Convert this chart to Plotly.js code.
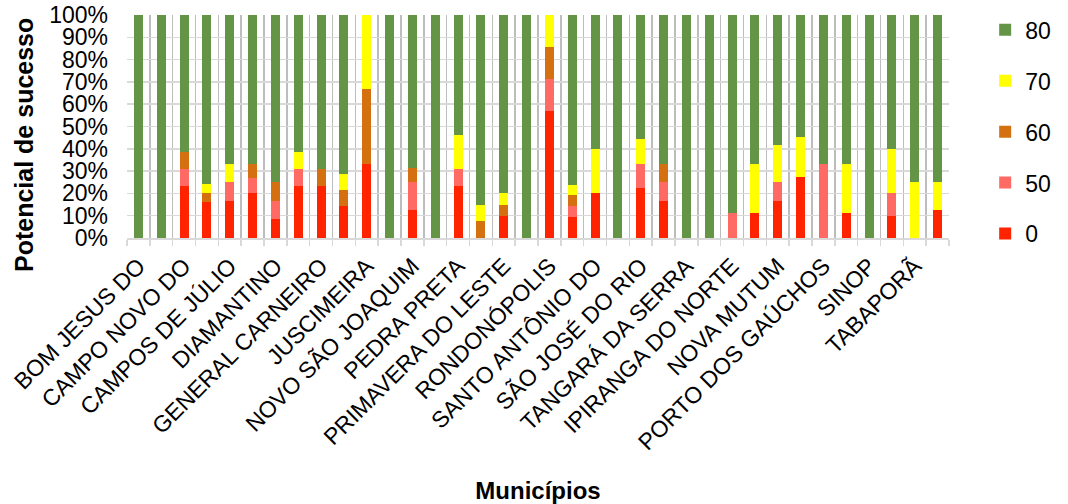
<!DOCTYPE html>
<html>
<head>
<meta charset="utf-8">
<script src="https://cdn.plot.ly/plotly-3.0.1.min.js"></script>
<style>html,body{margin:0;padding:0;background:#fff;}#chart{width:1068px;height:504px;}</style>
</head>
<body>
<div id="chart"></div>
<script>
// Labelled municipalities (every other bar is labelled in the reference)
const tickLabels = ["BOM JESUS DO","CAMPO NOVO DO","CAMPOS DE JÚLIO","DIAMANTINO","GENERAL CARNEIRO","JUSCIMEIRA","NOVO SÃO JOAQUIM","PEDRA PRETA","PRIMAVERA DO LESTE","RONDONÓPOLIS","SANTO ANTÔNIO DO","SÃO JOSÉ DO RIO","TANGARÁ DA SERRA","IPIRANGA DO NORTE","NOVA MUTUM","PORTO DOS GAÚCHOS","SINOP","TABAPORÃ"];
const seriesNames = ["0","50","60","70","80"];
const s0  = [0,0,23.1,16,16.7,20,8.3,23.1,23.1,14.3,33.3,0,12.5,0,23.1,0,10,0,57.1,9.5,20,0,22.2,16.7,0,0,0,11.1,16.7,27.3,0,11.1,0,10,0,12.5];
const s50 = [0,0,7.7,0,8.3,6.7,8.3,7.7,0,0,0,0,12.5,0,7.7,0,0,0,14.3,4.8,0,0,11.1,8.3,0,0,11.1,0,8.3,0,33.3,0,0,10,0,0];
const s60 = [0,0,7.7,4,0,6.7,8.3,0,7.7,7.1,33.3,0,6.25,0,0,7.5,5,0,14.3,4.8,0,0,0,8.3,0,0,0,0,0,0,0,0,0,0,0,0];
const s70 = [0,0,0,4,8.3,0,0,7.7,0,7.2,33.4,0,0,0,15.4,7.5,5,0,14.3,4.8,20,0,11.1,0,0,0,0,22.2,16.7,18.2,0,22.2,0,20,25,12.5];
const s80 = [100,100,61.5,76,66.7,66.6,75.1,61.5,69.2,71.4,0,100,68.75,100,53.8,85,80,100,0,76.1,60,100,55.6,66.7,100,100,88.9,66.7,58.3,54.5,66.7,66.7,100,60,75,75];
const colors = ["#ff2300","#ff6a64","#d4700f","#ffff00","#649446"];

const series = [s0, s50, s60, s70, s80];
const xs = s0.map((_, i) => i + 1);
const traces = series.map((vals, k) => ({
  type: "bar",
  name: seriesNames[k],
  x: xs,
  y: vals,
  legendgroup: "g" + k,
  legendrank: series.length - k,
  marker: {color: colors[k], line: {width: 0}},
  hoverinfo: "name+y"
}));

const FONT = "Liberation Sans, Arial, sans-serif";
const layout = {
  width: 1068, height: 504,
  margin: {l: 127, r: 105, t: 15, b: 266},
  paper_bgcolor: "#fff", plot_bgcolor: "#fff",
  barmode: "stack", barnorm: "percent", bargap: 0.6,
  font: {family: FONT, size: 23, color: "#000"},
  showlegend: true,
  legend: {x: 1.044, xanchor: "left", y: -0.078, yanchor: "bottom", traceorder: "grouped",
           tracegroupgap: 18, font: {family: FONT, size: 23, color: "#000"}, bgcolor: "rgba(0,0,0,0)"},
  xaxis: {
    range: [0.5, xs.length + 0.5],
    tickmode: "array",
    tickvals: tickLabels.map((_, i) => 2 * i + 1),
    ticktext: tickLabels,
    tickangle: -45,
    ticks: "",
    showgrid: false,
    zeroline: false,
    showline: true, linecolor: "#d9d9d9", linewidth: 1.5,
    tickfont: {family: FONT, size: 23, color: "#000"},
    ticklabelstandoff: 4,
    minor: {tickmode: "linear", tick0: 0.5, dtick: 1, showgrid: true, gridcolor: "#bdbdbd", gridwidth: 1.5,
            ticks: "outside", ticklen: 6, tickcolor: "#d9d9d9", tickwidth: 1.5},
    title: {text: "<b>Municípios</b>", font: {family: FONT, size: 24, color: "#000"}, standoff: 34},
    automargin: false
  },
  yaxis: {
    range: [0, 100],
    tickmode: "linear", tick0: 0, dtick: 10,
    ticksuffix: "%",
    showgrid: true, gridcolor: "#d9d9d9", gridwidth: 1.5,
    zeroline: false, showline: false,
    ticks: "",
    tickfont: {family: FONT, size: 23, color: "#000"},
    ticklabelstandoff: 18,
    automargin: false
  },
  annotations: [{
    text: "<b>Potencial de sucesso</b>",
    xref: "paper", yref: "paper", x: -0.1256, y: 0.416,
    xanchor: "center", yanchor: "middle", textangle: -90, showarrow: false,
    font: {family: FONT, size: 25, color: "#000"}
  }]
};

Plotly.newPlot("chart", traces, layout, {displayModeBar: false, staticPlot: true});
</script>
</body>
</html>
